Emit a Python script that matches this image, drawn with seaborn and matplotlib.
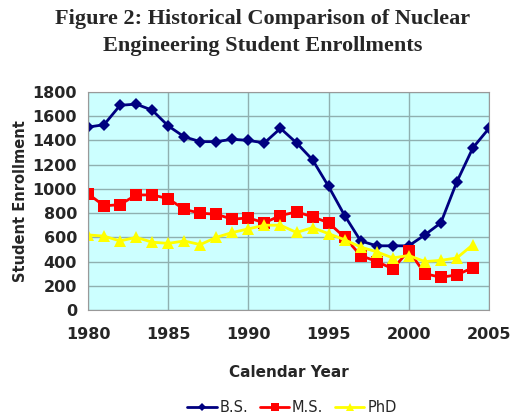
import matplotlib
matplotlib.use('Agg')
import matplotlib.pyplot as plt
import seaborn as sns
import pandas as pd

years = list(range(1980, 2006))
bs = [1510, 1530, 1690, 1700, 1650, 1520, 1430, 1390, 1390, 1410, 1400, 1380, 1500,
      1380, 1240, 1020, 780, 570, 530, 530, 530, 620, 720, 1060, 1340, 1500]
ms = [960, 860, 870, 950, 950, 920, 830, 800, 790, 750, 760, 720, 780,
      810, 770, 720, 600, 450, 400, 340, 490, 300, 270, 290, 350]
phd = [620, 610, 570, 600, 560, 550, 570, 540, 600, 640, 670, 700, 700,
       640, 680, 630, 580, 520, 480, 430, 450, 400, 410, 430, 540]

df = pd.concat([
    pd.DataFrame({'Year': years[:len(bs)], 'Enrollment': bs, 'Degree': 'B.S.'}),
    pd.DataFrame({'Year': years[:len(ms)], 'Enrollment': ms, 'Degree': 'M.S.'}),
    pd.DataFrame({'Year': years[:len(phd)], 'Enrollment': phd, 'Degree': 'PhD'}),
])

sns.set_style('white')
plt.rcParams['font.family'] = ['DejaVu Sans']

fig = plt.figure(figsize=(5.13, 4.2), dpi=100)
ax = fig.add_axes([88 / 513, 1 - 310 / 420, (489 - 88) / 513, (310 - 92) / 420])
ax.set_facecolor('#ccffff')

sns.lineplot(
    data=df, x='Year', y='Enrollment', hue='Degree', style='Degree',
    palette={'B.S.': '#000080', 'M.S.': '#ff0000', 'PhD': '#ffff00'},
    markers={'B.S.': 'D', 'M.S.': 's', 'PhD': '^'},
    dashes=False, markersize=8, linewidth=2, markeredgewidth=0,
    ax=ax, legend=True,
)
for line in ax.lines:
    if line.get_marker() == 'D':
        line.set_markersize(6.5)

ax.set_xlim(1980, 2005)
ax.set_ylim(0, 1800)
ax.set_xticks(range(1980, 2006, 5))
ax.set_yticks(range(0, 1801, 200))
ax.grid(True, color='#8fb0b0', linewidth=1)
ax.set_axisbelow(True)
for s in ax.spines.values():
    s.set_color('#999999')
    s.set_linewidth(0.8)
ax.tick_params(axis='both', length=0, labelsize=11.5)
ax.tick_params(axis='x', pad=12)
ax.tick_params(axis='y', pad=8)
for lab in ax.get_xticklabels() + ax.get_yticklabels():
    lab.set_fontweight('bold')

ax.set_xlabel('Calendar Year', fontsize=11, fontweight='bold', labelpad=17)
ax.set_ylabel('Student Enrollment', fontsize=10.5, fontweight='bold', labelpad=3)

# legend below the plot, small markers, no frame
handles, labels = ax.get_legend_handles_labels()
ax.legend(handles, labels, loc='center', bbox_to_anchor=(292 / 513, 1 - 408 / 420),
          bbox_transform=fig.transFigure, ncol=3, frameon=False, fontsize=10.5,
          handlelength=2.0, handletextpad=0.2, columnspacing=0.8, markerscale=0.7)

fig.text(263 / 513, 1 - 19 / 420, 'Figure 2: Historical Comparison of Nuclear',
         ha='center', va='center', fontsize=16, fontweight='bold', family='Liberation Serif')
fig.text(263 / 513, 1 - 46 / 420, 'Engineering Student Enrollments',
         ha='center', va='center', fontsize=16, fontweight='bold', family='Liberation Serif')

fig.savefig('out.png', dpi=100)
